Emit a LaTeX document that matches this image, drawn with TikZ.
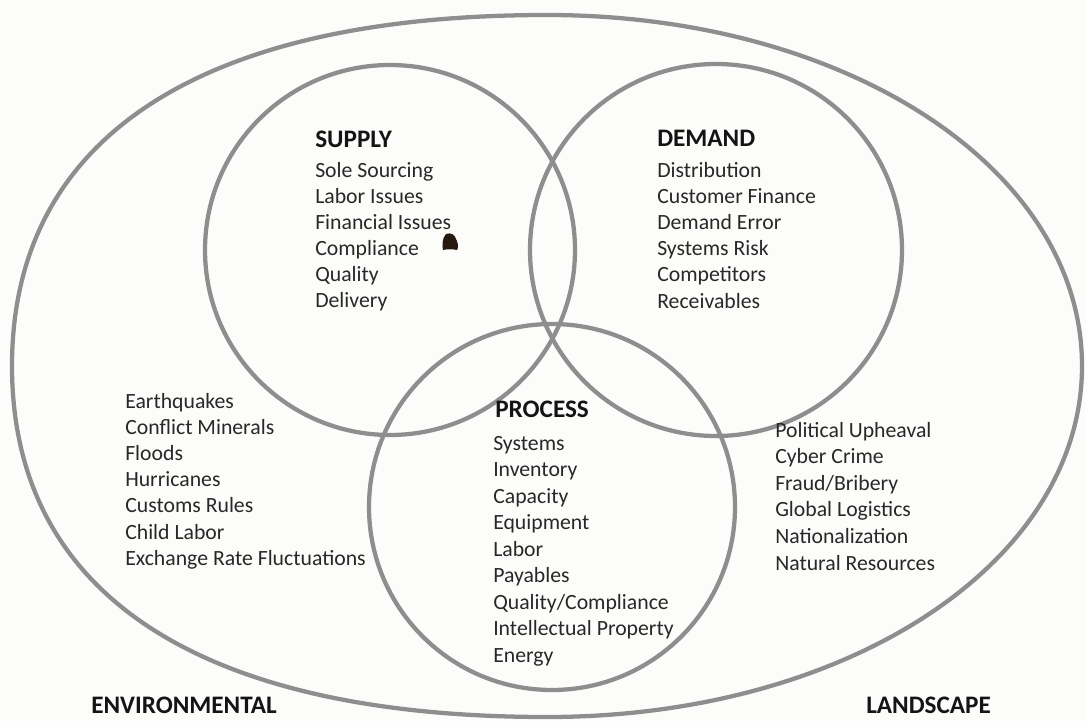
\documentclass[tikz,border=0pt]{standalone}
\usepackage{fontspec}
\setmainfont{Carlito}

\begin{document}
\begin{tikzpicture}[x=0.75pt,y=0.75pt,yscale=-1,xscale=1,
  ring/.style={draw={rgb, 255:red, 142; green, 142; blue, 142 }, line width=3.2pt},
  item/.style={anchor=base west, inner sep=0pt, font=\fontsize{16.3}{19.5}\selectfont, text={rgb, 255:red, 40; green, 40; blue, 40 }},
  heading/.style={anchor=base west, inner sep=0pt, font=\fontsize{18.9}{22}\selectfont\bfseries, text={rgb, 255:red, 20; green, 20; blue, 20 }}]
%set diagram size 1086 x 721
\path [use as bounding box, fill={rgb, 255:red, 252; green, 252; blue, 250 }] (0,0) rectangle (1086,721);

%Shape: Ellipse -- the outer landscape
\draw [ring] (547,15) .. controls (199,15) and (12,138) .. (12,366) .. controls (12,594) and (199,717) .. (547,717) .. controls (847,717) and (1082,563) .. (1082,366) .. controls (1082,169) and (847,15) .. (547,15) -- cycle ;
%Shape: Circle -- supply
\draw [ring] (390,250) circle (185) ;
%Shape: Circle -- demand
\draw [ring] (716,250) circle (186) ;
%Shape: Circle -- process
\draw [ring] (552,507) circle (183) ;
%Shape: ink spot
\fill [fill={rgb, 255:red, 38; green, 26; blue, 16 }] (446,234) .. controls (451,232) and (455,235) .. (456,239) .. controls (458,243) and (459,247) .. (457,250) .. controls (453,249) and (447,249) .. (443,250) .. controls (442,246) and (442,238) .. (446,234) -- cycle ;

% Text Node
\node [heading] (supply) at (315,147) {SUPPLY};
\foreach \txt [count=\i] in {Sole Sourcing, Labor Issues, Financial Issues, Compliance, Quality, Delivery}
  \node [item] (supply-\i) at (315,{177+26*(\i-1)}) {\txt};
% Text Node
\node [heading] (demand) at (657,146) {DEMAND};
\foreach \txt [count=\i] in {Distribution, Customer Finance, Demand Error, Systems Risk, Competitors, Receivables}
  \node [item] (demand-\i) at (657,{177+26.2*(\i-1)}) {\txt};
% Text Node
\node [heading] (process) at (495,417) {PROCESS};
\foreach \txt [count=\i] in {Systems, Inventory, Capacity, Equipment, Labor, Payables, Quality/Compliance, Intellectual Property, Energy}
  \node [item] (process-\i) at (493,{450+26.5*(\i-1)}) {\txt};
% Text Node
\foreach \txt [count=\i] in {Earthquakes, Conflict Minerals, Floods, Hurricanes, Customs Rules, Child Labor, Exchange Rate Fluctuations}
  \node [item] (env-\i) at (125,{408+26.2*(\i-1)}) {\txt};
% Text Node
\foreach \txt [count=\i] in {Political Upheaval, Cyber Crime, Fraud/Bribery, Global Logistics, Nationalization, Natural Resources}
  \node [item] (land-\i) at (775,{437+26.6*(\i-1)}) {\txt};
% Text Node
\node [heading] (environmental) at (91,713) {ENVIRONMENTAL};
% Text Node
\node [heading] (landscape) at (866,713) {LANDSCAPE};

\end{tikzpicture}
\end{document}
